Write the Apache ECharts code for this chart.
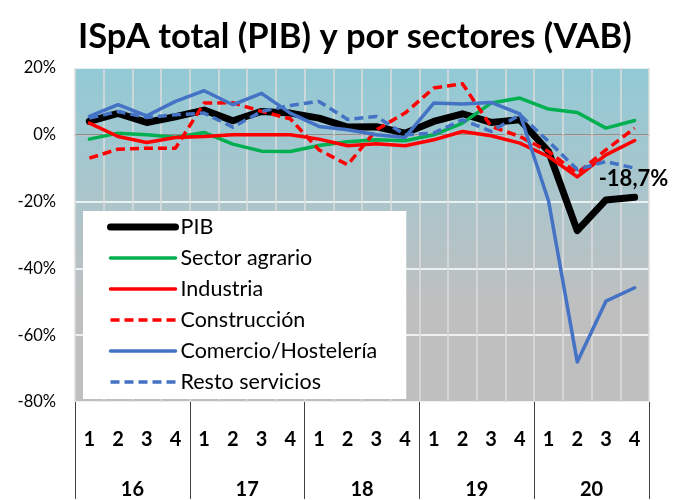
<!DOCTYPE html>
<html>
<head>
<meta charset="utf-8">
<script src="https://cdn.jsdelivr.net/npm/echarts@6/dist/echarts.min.js"></script>
<style>
  html, body { margin: 0; padding: 0; background: #fff; }
  #chartContainer { width: 674px; height: 500px; }
</style>
</head>
<body>
<div id="chartContainer"></div>
<script>
var quarters = ['1', '2', '3', '4', '1', '2', '3', '4', '1', '2', '3', '4', '1', '2', '3', '4', '1', '2', '3', '4'];
var years = ['16', '17', '18', '19', '20'];

var pib = [4.0, 6.4, 3.7, 5.4, 7.4, 4.2, 7.0, 6.5, 5.0, 2.3, 2.4, 0.5, 4.0, 6.3, 3.7, 4.5, -5.0, -28.7, -19.5, -18.7];
var agrario = [-1.3, 0.5, 0.0, -0.7, 0.7, -2.8, -4.9, -5.0, -3.2, -2.1, -1.5, -1.8, 0.0, 3.5, 9.5, 11.0, 7.7, 6.7, 2.0, 4.3];
var industria = [3.5, -0.5, -2.3, -0.8, -0.5, 0.0, 0.0, 0.0, -1.3, -3.3, -2.7, -3.3, -1.5, 1.0, -0.3, -2.5, -6.5, -12.6, -6.0, -1.7];
var construccion = [-7.0, -4.3, -4.0, -4.0, 9.5, 9.6, 7.0, 4.8, -4.5, -9.0, 1.5, 6.5, 14.0, 15.3, 2.5, -0.5, -5.0, -11.5, -4.5, 2.0];
var comercio = [5.5, 9.0, 5.7, 10.0, 13.2, 9.0, 12.4, 6.5, 2.5, 1.5, 0.0, -0.8, 9.5, 9.2, 9.7, 6.3, -19.8, -68.0, -49.8, -45.8];
var resto = [5.0, 7.0, 5.2, 6.0, 6.5, 2.3, 7.0, 8.8, 10.0, 4.6, 5.5, 0.0, 0.5, 4.5, 1.0, 6.0, -2.0, -10.4, -8.0, -10.0];

var fontName = 'Lato';

function lineSeries(name, values, color, width, dashed) {
  return {
    name: name,
    type: 'line',
    data: values,
    symbol: 'none',
    smooth: false,
    lineStyle: {
      color: color,
      width: width,
      type: dashed ? [9, 5] : 'solid',
      cap: dashed ? 'butt' : 'round',
      join: 'round'
    },
    itemStyle: { color: color }
  };
}

var chart = echarts.init(document.getElementById('chartContainer'));

// PIB shows its last value at the end of the line
var pibSeries = lineSeries('PIB', pib, '#000000', 7, false);
pibSeries.endLabel = {
  show: true,
  formatter: function (p) {
    return p.value.toFixed(1).replace('.', ',') + '%';
  },
  offset: [-44, -18],
  fontFamily: fontName,
  fontWeight: 'bold',
  fontSize: 22,
  color: '#000'
};

chart.setOption({
  animation: false,
  title: {
    text: 'ISpA total (PIB) y por sectores (VAB)',
    left: 73,
    top: 14,
    textStyle: {
      fontFamily: fontName,
      fontWeight: 'bold',
      fontSize: 34.5,
      color: '#000'
    }
  },
  grid: {
    left: 75,
    right: 25,
    top: 68,
    bottom: 97,
    show: true,
    borderWidth: 0,
    backgroundColor: new echarts.graphic.LinearGradient(0, 0, 0, 1, [
      { offset: 0, color: '#92CAD6' },
      { offset: 0.45, color: '#AFC4C9' },
      { offset: 0.72, color: '#BFBFBF' },
      { offset: 1, color: '#BFBFBF' }
    ])
  },
  legend: {
    orient: 'vertical',
    left: 83,
    top: 211,
    backgroundColor: '#ffffff',
    padding: [5, 29, 6, 24],
    itemWidth: 65,
    itemHeight: 14,
    itemGap: 9,
    itemStyle: { opacity: 0 },
    lineStyle: { width: 'inherit' },
    textStyle: {
      fontFamily: fontName,
      fontSize: 21.5,
      lineHeight: 20,
      color: '#000'
    },
    data: ['PIB', 'Sector agrario', 'Industria', 'Construcción', 'Comercio/Hostelería', 'Resto servicios']
  },
  xAxis: [{
    type: 'category',
    data: quarters,
    boundaryGap: true,
    axisLine: { show: true, lineStyle: { color: '#BFBFBF' } },
    axisTick: { show: false },
    axisLabel: {
      interval: 0,
      margin: 28,
      fontFamily: fontName,
      fontWeight: 'bold',
      fontSize: 20,
      color: '#000'
    },
    splitLine: { show: true, lineStyle: { color: '#DCDCDC', width: 1.5 } }
  }, {
    type: 'category',
    data: years,
    position: 'bottom',
    boundaryGap: true,
    axisLine: { show: false },
    axisTick: { show: true, length: 97, lineStyle: { color: '#404040', width: 1 } },
    axisLabel: {
      margin: 78,
      fontFamily: fontName,
      fontWeight: 'bold',
      fontSize: 20,
      color: '#000'
    },
    splitLine: { show: false }
  }],
  yAxis: {
    type: 'value',
    min: -80,
    max: 20,
    interval: 20,
    axisLine: { show: false },
    axisTick: { show: false },
    axisLabel: {
      formatter: '{value}%',
      margin: 19,
      fontFamily: fontName,
      fontSize: 16.5,
      color: '#000'
    },
    splitLine: {
      show: true,
      lineStyle: {
        color: ['#ffffff', '#ffffff', '#ffffff', '#ffffff', '#7F7F7F', '#ffffff'],
        width: 1.5
      }
    }
  },
  series: [
    pibSeries,
    lineSeries('Sector agrario', agrario, '#00B050', 3.5, false),
    lineSeries('Industria', industria, '#FF0000', 3.5, false),
    lineSeries('Construcción', construccion, '#FF0000', 3.5, true),
    lineSeries('Comercio/Hostelería', comercio, '#4472C4', 3.5, false),
    lineSeries('Resto servicios', resto, '#4472C4', 3.5, true)
  ]
});

window.addEventListener('resize', function () {
  chart.resize();
});
</script>
</body>
</html>
